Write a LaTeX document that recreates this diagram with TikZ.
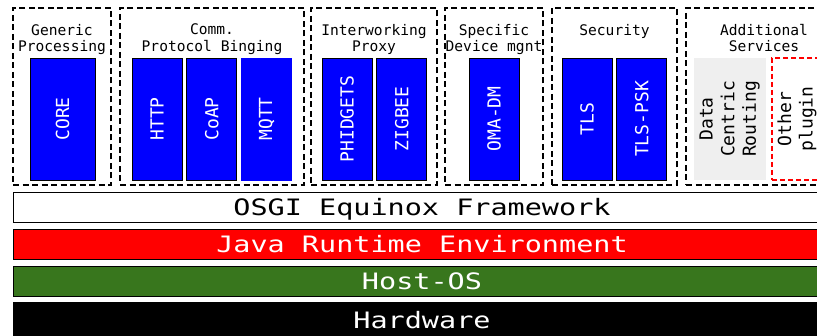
\documentclass[tikz,border=0pt]{standalone}
\usepackage{fontspec}
\setmonofont{DejaVu Sans Mono}
\newfontfamily\barfont[FakeStretch=1.26]{DejaVu Sans Mono}
\usetikzlibrary{positioning}
\definecolor{hostgreen}{HTML}{38761D}
\definecolor{routegrey}{HTML}{EFEFEF}

\begin{document}
\begin{tikzpicture}[x=1pt, y=-1pt, node distance=4pt]
	\tikzset{group/.style={draw, dash pattern=on 6pt off 3.5pt, line width=1.3pt, rectangle, minimum height=177pt},
		glabel/.style={align=center, inner sep=0pt, font=\ttfamily\fontsize{14.6}{16.2}\selectfont},
		plug/.style={draw, fill=blue, text=white, rectangle, line width=0.8pt, minimum width=50pt, minimum height=122pt, inner sep=0pt, font=\ttfamily\fontsize{18}{21.6}\selectfont},
		layer/.style={draw, rectangle, line width=1pt, minimum width=818pt, minimum height=30pt, inner sep=0pt, text height=16.5pt, text depth=0pt, font=\barfont\fontsize{22.6}{26}\selectfont}
	}
	\useasboundingbox (0,0) rectangle (817,336);

	% plugin groups
	\node [group, minimum width=98pt] (processing) at (62,96.5) {};
	\node [group, minimum width=184pt] (comm) at (212,96.5) {};
	\node [group, minimum width=126pt] (proxy) at (374,96.5) {};
	\node [group, minimum width=98pt] (device) at (494,96.5) {};
	\node [group, minimum width=125pt] (security) at (614.5,96.5) {};
	\node [group, minimum width=156pt] (services) at (764,96.5) {};

	\node [glabel, below=16.5pt of processing.north] (processinglabel) {Generic\\Processing};
	\node [glabel, below=16.5pt of comm.north] (commlabel) {Comm.\\Protocol Binging};
	\node [glabel, below=16.5pt of proxy.north] (proxylabel) {Interworking\\Proxy};
	\node [glabel, below=16.5pt of device.north] (devicelabel) {Specific\\Device mgnt};
	\node [glabel, below=16.5pt of security.north] (securitylabel) {Security};
	\node [glabel, below=16.5pt of services.north] (serviceslabel) {Additional\\Services};

	% plugins
	\node [plug, minimum width=65pt] (core) at (62.5,119) {\rotatebox{90}{CORE}};
	\node [plug] (http) at (157,119) {\rotatebox{90}{HTTP}};
	\node [plug, right=of http] (coap) {\rotatebox{90}{CoAP}};
	\node [plug, draw=blue, right=of coap] (mqtt) {\rotatebox{90}{MQTT}};
	\node [plug] (phidgets) at (347,119) {\rotatebox{90}{PHIDGETS}};
	\node [plug, right=of phidgets] (zigbee) {\rotatebox{90}{ZIGBEE}};
	\node [plug] (omadm) at (494,119) {\rotatebox{90}{OMA-DM}};
	\node [plug] (tls) at (587,119) {\rotatebox{90}{TLS}};
	\node [plug, right=of tls] (tlspsk) {\rotatebox{90}{TLS-PSK}};
	\node [plug, draw=none, fill=routegrey, text=black, minimum width=72pt] (routing) at (730,119)
		{\rotatebox{90}{\begin{tabular}{@{}c@{}}Data\\Centric\\Routing\end{tabular}}};
	\node [plug, draw=red, fill=white, text=black, line width=1.1pt, dash pattern=on 5pt off 3pt, minimum width=51pt] (other) at (797.5,119)
		{\rotatebox{90}{\begin{tabular}{@{}c@{}}Other\\plugin\end{tabular}}};

	% platform layers
	\node [layer, fill=white] (osgi) at (422,207.5) {OSGI Equinox Framework};
	\node [layer, fill=red, text=white, below=6pt of osgi] (jre) {Java Runtime Environment};
	\node [layer, fill=hostgreen, text=white, below=6pt of jre] (hostos) {Host-OS};
	\node [layer, fill=black, text=white, minimum height=35pt, below=5pt of hostos] (hardware) {Hardware};

\end{tikzpicture}
\end{document}
